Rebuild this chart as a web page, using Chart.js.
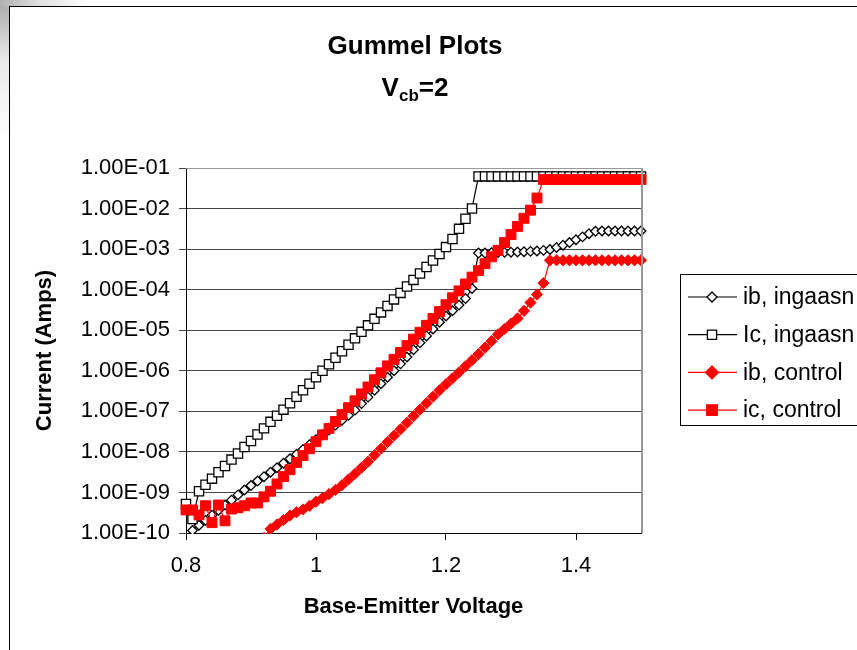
<!DOCTYPE html>
<html>
<head>
<meta charset="utf-8">
<script src="https://cdn.jsdelivr.net/npm/chart.js@4.4.0/dist/chart.umd.min.js"></script>
<style>
  html, body { margin: 0; padding: 0; background: #fff; }
  #wrap { position: relative; width: 857px; height: 650px; overflow: hidden; background: #fff; }
  #shadeL { position: absolute; left: 0; top: 0; width: 9px; height: 650px; background: linear-gradient(to bottom, #a8a8a8, #e8e8e8 60px, #fff 140px); }
  #shadeT { position: absolute; left: 0; top: 0; width: 857px; height: 7px; background: linear-gradient(to right, #b0b0b0, #e0e0e0 40px, #fff 90px); }
  #frame { position: absolute; left: 9px; top: 6px; width: 900px; height: 700px; border-left: 1px solid #000; border-top: 1px solid #000; }
  canvas { position: absolute; left: 0; top: 0; }
  .ttl { position: absolute; left: 0; width: 830px; text-align: center; font-family: "Liberation Sans", Arial, sans-serif; font-weight: bold; color: #000; }
  #t1 { top: 30px; font-size: 26px; }
  #t2 { top: 72px; font-size: 26px; }
  #t2 sub { font-size: 17px; vertical-align: -5px; }
</style>
</head>
<body>
<div id="wrap">
  <div id="shadeL"></div>
  <div id="shadeT"></div>
  <div id="frame"></div>
  <canvas id="myChart" width="857" height="650"></canvas>
  <div id="t1" class="ttl">Gummel Plots</div>
  <div id="t2" class="ttl">V<sub>cb</sub>=2</div>
</div>
<script>
// base-emitter voltage, one reading every 10 mV
const voltages = [0.80, 0.81, 0.82, 0.83, 0.84, 0.85, 0.86, 0.87, 0.88, 0.89,
  0.90, 0.91, 0.92, 0.93, 0.94, 0.95, 0.96, 0.97, 0.98, 0.99,
  1.00, 1.01, 1.02, 1.03, 1.04, 1.05, 1.06, 1.07, 1.08, 1.09,
  1.10, 1.11, 1.12, 1.13, 1.14, 1.15, 1.16, 1.17, 1.18, 1.19,
  1.20, 1.21, 1.22, 1.23, 1.24, 1.25, 1.26, 1.27, 1.28, 1.29,
  1.30, 1.31, 1.32, 1.33, 1.34, 1.35, 1.36, 1.37, 1.38, 1.39,
  1.40, 1.41, 1.42, 1.43, 1.44, 1.45, 1.46, 1.47, 1.48, 1.49, 1.50];

// ib, ingaasn
const ibIngaasn = [7.0e-11, 1.15e-10, 1.55e-10, 2.04e-10, 2.75e-10, 3.63e-10, 4.9e-10, 6.46e-10, 8.7e-10, 1.15e-9,
  1.48e-9, 1.91e-9, 2.45e-9, 3.16e-9, 4.07e-9, 5.25e-9, 6.76e-9, 8.7e-9, 1.15e-8, 1.51e-8,
  2.0e-8, 2.63e-8, 3.47e-8, 4.57e-8, 6.03e-8, 7.94e-8, 1.07e-7, 1.55e-7, 2.24e-7, 3.31e-7,
  4.79e-7, 6.92e-7, 1.0e-6, 1.48e-6, 2.19e-6, 3.31e-6, 4.9e-6, 7.24e-6, 1.07e-5, 1.58e-5,
  2.24e-5, 3.02e-5, 4.17e-5, 6.03e-5, 1.07e-4, 8.0e-4, 8.0e-4, 8.1e-4, 8.2e-4, 8.3e-4,
  8.4e-4, 8.5e-4, 8.6e-4, 8.8e-4, 9.0e-4, 9.3e-4, 9.8e-4, 1.1e-3, 1.25e-3, 1.45e-3,
  1.7e-3, 2.0e-3, 2.4e-3, 2.75e-3, 2.8e-3, 2.8e-3, 2.8e-3, 2.8e-3, 2.8e-3, 2.8e-3, 2.8e-3];

// Ic, ingaasn
const icIngaasn = [5.2e-10, 2.2e-10, 1.07e-9, 1.55e-9, 2.19e-9, 3.16e-9, 4.47e-9, 6.46e-9, 9.12e-9, 1.32e-8,
  1.86e-8, 2.69e-8, 3.8e-8, 5.5e-8, 7.76e-8, 1.1e-7, 1.58e-7, 2.29e-7, 3.31e-7, 4.79e-7,
  6.92e-7, 1.0e-6, 1.45e-6, 2.09e-6, 3.02e-6, 4.37e-6, 6.31e-6, 9.12e-6, 1.32e-5, 1.91e-5,
  2.75e-5, 3.98e-5, 5.75e-5, 8.32e-5, 1.2e-4, 1.74e-4, 2.51e-4, 3.63e-4, 5.25e-4, 7.59e-4,
  1.12e-3, 1.78e-3, 3.16e-3, 5.62e-3, 1.0e-2, 6.2e-2, 6.2e-2, 6.2e-2, 6.2e-2, 6.2e-2,
  6.2e-2, 6.2e-2, 6.2e-2, 6.2e-2, 6.2e-2, 6.2e-2, 6.2e-2, 6.2e-2, 6.2e-2, 6.2e-2,
  6.2e-2, 6.2e-2, 6.2e-2, 6.2e-2, 6.2e-2, 6.2e-2, 6.2e-2, 6.2e-2, 6.2e-2, 6.2e-2, 6.2e-2];

// ib, control (below 1e-10 the points are off the chart)
const ibControl = [null, null, null, null, null, null, null, null, null, null,
  null, 5.0e-11, 7.5e-11, 1.26e-10, 1.62e-10, 2.09e-10, 2.69e-10, 3.24e-10, 3.8e-10, 4.68e-10,
  5.89e-10, 7.24e-10, 9.1e-10, 1.15e-9, 1.51e-9, 2.09e-9, 2.88e-9, 4.07e-9, 5.69e-9, 8.3e-9,
  1.2e-8, 1.74e-8, 2.5e-8, 3.6e-8, 5.2e-8, 7.6e-8, 1.1e-7, 1.58e-7, 2.29e-7, 3.3e-7,
  4.68e-7, 6.5e-7, 9.1e-7, 1.29e-6, 1.82e-6, 2.57e-6, 3.72e-6, 5.37e-6, 7.9e-6, 1.07e-5,
  1.45e-5, 1.95e-5, 3.0e-5, 4.8e-5, 7.6e-5, 1.45e-4, 5.3e-4, 5.3e-4, 5.3e-4, 5.3e-4,
  5.3e-4, 5.3e-4, 5.3e-4, 5.3e-4, 5.3e-4, 5.3e-4, 5.3e-4, 5.3e-4, 5.3e-4, 5.3e-4, 5.3e-4];

// ic, control
const icControl = [3.7e-10, 3.7e-10, 2.8e-10, 4.7e-10, 1.8e-10, 4.9e-10, 2.0e-10, 3.9e-10, 4.2e-10, 4.7e-10,
  5.5e-10, 5.5e-10, 7.8e-10, 1.07e-9, 1.62e-9, 2.45e-9, 3.63e-9, 5.5e-9, 8.1e-9, 1.2e-8,
  1.78e-8, 2.63e-8, 3.8e-8, 5.62e-8, 8.3e-8, 1.23e-7, 1.82e-7, 2.69e-7, 3.98e-7, 6.03e-7,
  8.9e-7, 1.32e-6, 1.91e-6, 2.82e-6, 4.17e-6, 6.03e-6, 8.91e-6, 1.32e-5, 1.95e-5, 2.88e-5,
  4.27e-5, 6.31e-5, 9.33e-5, 1.38e-4, 2.04e-4, 2.95e-4, 4.37e-4, 6.46e-4, 9.33e-4, 1.45e-3,
  2.29e-3, 3.63e-3, 5.75e-3, 9.12e-3, 1.82e-2, 5.2e-2, 5.2e-2, 5.2e-2, 5.2e-2, 5.2e-2,
  5.2e-2, 5.2e-2, 5.2e-2, 5.2e-2, 5.2e-2, 5.2e-2, 5.2e-2, 5.2e-2, 5.2e-2, 5.2e-2, 5.2e-2];

const yTicks = [1e-10, 1e-9, 1e-8, 1e-7, 1e-6, 1e-5, 1e-4, 1e-3, 1e-2, 1e-1];
const xTicks = [0.8, 1.0, 1.2, 1.4];

const FONT = '"Liberation Sans", Arial, sans-serif';

function pts(arr) {
  return voltages.map((v, i) => ({ x: v, y: arr[i] }));
}

function sci(v) {
  const parts = v.toExponential(2).split('e');
  const e = Number(parts[1]);
  return parts[0] + 'E' + (e < 0 ? '-' : '+') + String(Math.abs(e)).padStart(2, '0');
}

function marker(ctx, style, r, x, y, fill, stroke) {
  ctx.beginPath();
  if (style === 'rectRot') {
    ctx.moveTo(x, y - r); ctx.lineTo(x + r, y); ctx.lineTo(x, y + r); ctx.lineTo(x - r, y);
  } else {
    const h = r * Math.SQRT1_2;
    ctx.rect(x - h, y - h, 2 * h, 2 * h);
  }
  ctx.closePath();
  ctx.fillStyle = fill; ctx.fill();
  ctx.lineWidth = 1.3; ctx.strokeStyle = stroke; ctx.stroke();
}

// plot frame (grey top/right) + the legend box on the right
const extras = {
  id: 'extras',
  afterDraw(chart) {
    const ctx = chart.ctx;
    const a = chart.chartArea;
    ctx.save();
    ctx.strokeStyle = '#999';
    ctx.lineWidth = 1;
    ctx.beginPath(); ctx.moveTo(a.left, a.top + 0.5); ctx.lineTo(a.right, a.top + 0.5); ctx.stroke();
    ctx.lineWidth = 2;
    ctx.beginPath(); ctx.moveTo(a.right + 1, a.top); ctx.lineTo(a.right + 1, a.bottom); ctx.stroke();

    ctx.lineWidth = 1;
    ctx.strokeStyle = '#000';
    ctx.strokeRect(680.5, 274.5, 220, 151);
    const legSize = [5, 6.5, 6.5, 7.5];
    chart.data.datasets.forEach((ds, i) => {
      const y = 297 + i * 37.7;
      ctx.strokeStyle = ds.borderColor;
      ctx.lineWidth = 1.2;
      ctx.beginPath(); ctx.moveTo(688, y); ctx.lineTo(737, y); ctx.stroke();
      marker(ctx, ds.pointStyle, legSize[i], 712, y, ds.pointBackgroundColor, ds.pointBorderColor);
      ctx.fillStyle = '#000';
      ctx.font = '23px ' + FONT;
      ctx.textBaseline = 'middle';
      ctx.textAlign = 'left';
      ctx.fillText(ds.label, 743, y + 1);
    });
    ctx.restore();
  }
};

const clipBox = { left: 8, top: 8, right: 8, bottom: 1 };

const data = {
  datasets: [
    { label: 'ib, ingaasn', data: pts(ibIngaasn), borderColor: '#000', borderWidth: 1.2, order: 3,
      pointStyle: 'rectRot', pointRadius: 4.8, pointBackgroundColor: '#fff', pointBorderColor: '#000', pointBorderWidth: 1.3, clip: clipBox },
    { label: 'Ic, ingaasn', data: pts(icIngaasn), borderColor: '#000', borderWidth: 1.2, order: 2,
      pointStyle: 'rect', pointRadius: 6.5, pointBackgroundColor: '#fff', pointBorderColor: '#000', pointBorderWidth: 1.3, clip: clipBox },
    { label: 'ib, control', data: pts(ibControl), borderColor: '#f00', borderWidth: 1.2, order: 1,
      pointStyle: 'rectRot', pointRadius: 5.6, pointBackgroundColor: '#f00', pointBorderColor: '#f00', pointBorderWidth: 1, clip: clipBox },
    { label: 'ic, control', data: pts(icControl), borderColor: '#f00', borderWidth: 1.2, order: 0,
      pointStyle: 'rect', pointRadius: 7, pointBackgroundColor: '#f00', pointBorderColor: '#f00', pointBorderWidth: 1, clip: clipBox }
  ]
};

const config = {
  type: 'line',
  data,
  options: {
    responsive: false,
    animation: false,
    layout: { padding: { left: 32, top: 168, right: 216, bottom: 30 } },
    plugins: { legend: { display: false }, tooltip: { enabled: false } },
    scales: {
      x: {
        type: 'linear', min: 0.8, max: 1.5,
        afterBuildTicks: s => { s.ticks = xTicks.map(v => ({ value: v })); },
        afterFit: s => { s.height = 87; },
        ticks: { color: '#000', font: { family: FONT, size: 22 }, padding: 13,
          callback: v => String(Number(v.toFixed(1))) },
        grid: { drawOnChartArea: false, tickLength: 7, color: '#000' },
        border: { color: '#000', width: 1 },
        title: { display: true, text: 'Base-Emitter Voltage', color: '#000', padding: 0,
          font: { family: FONT, size: 22, weight: 'bold' } }
      },
      y: {
        type: 'logarithmic', min: 1e-10, max: 1e-1,
        afterBuildTicks: s => { s.ticks = yTicks.map(v => ({ value: v })); },
        afterFit: s => { s.width = 154; },
        ticks: { color: '#000', font: { family: FONT, size: 22 }, padding: 9, callback: v => sci(v) },
        grid: { color: '#444', tickLength: 7 },
        border: { color: '#000', width: 1 },
        title: { display: true, text: 'Current (Amps)', color: '#000', padding: 0,
          font: { family: FONT, size: 22, weight: 'bold' } }
      }
    }
  },
  plugins: [extras]
};

const myChart = new Chart(document.getElementById('myChart'), config);
</script>
</body>
</html>
